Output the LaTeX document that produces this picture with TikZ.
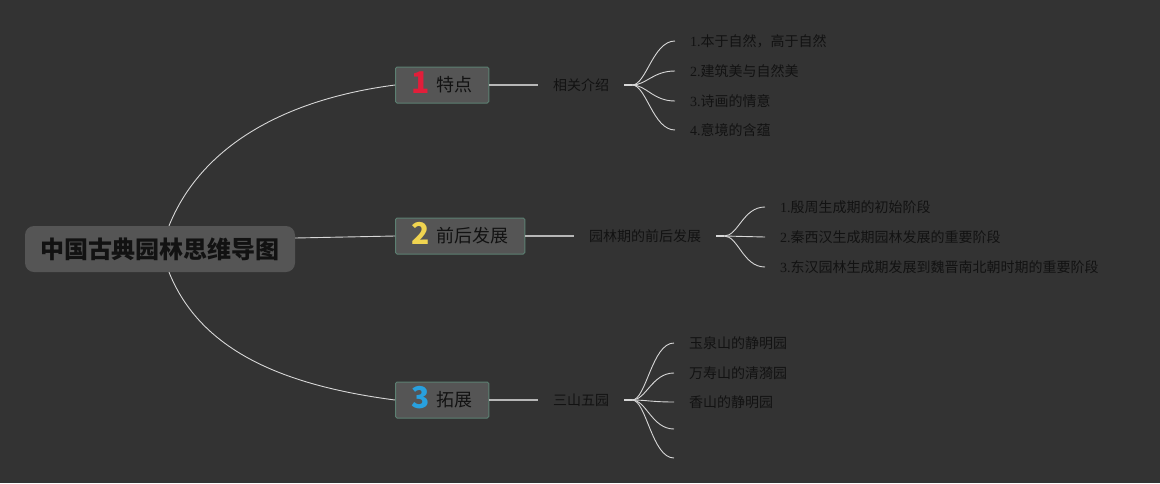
\documentclass[tikz,border=0pt]{standalone}
\usepackage{fontspec}
\setmainfont{Noto Sans CJK SC}
\newfontfamily\serifdigit{Liberation Serif}
\usepackage{tikz}
\definecolor{bgc}{RGB}{51,51,51}
\definecolor{boxc}{RGB}{85,85,85}
\definecolor{edgec}{RGB}{92,128,114}
\definecolor{linec}{RGB}{215,215,215}
\definecolor{ink}{RGB}{18,18,18}
\definecolor{numred}{RGB}{226,30,58}
\definecolor{numyellow}{RGB}{240,212,80}
\definecolor{numblue}{RGB}{40,160,222}
\newcommand{\NUM}[2]{\raisebox{-2.5pt}{\smash{\textcolor{#1}{\fontsize{30}{30}\selectfont\bfseries #2}}}\hspace{7pt}}
\newcommand{\IDX}[1]{{\serifdigit #1.}}

\begin{document}
\begin{tikzpicture}[x=1pt,y=-1pt,
  root/.style={fill=boxc,rounded corners=9pt,minimum width=270pt,minimum height=46pt,
    text=ink,font=\fontsize{24}{24}\selectfont\bfseries},
  topic/.style={draw=edgec,line width=1pt,fill=boxc,rounded corners=1.5pt,anchor=west,
    minimum height=36pt,inner xsep=16pt,inner ysep=0pt,text=ink,font=\fontsize{18}{18}\selectfont},
  sub/.style={inner xsep=15pt,text=ink,font=\fontsize{14}{14}\selectfont},
  leaf/.style={anchor=west,inner xsep=15pt,text=ink,font=\fontsize{14}{14}\selectfont},
  trunk/.style={draw=linec,line width=0.9pt},
  twig/.style={draw=linec!85!black,line width=1.3pt},
  stub/.style={draw=linec,line width=2.5pt}]

  \fill[bgc] (0,0) rectangle (1160,483);

  % root
  \node[root] (root) at (160,249) {中国古典园林思维导图};

  % topics
  \node[topic] (t1) at (395,85) {\NUM{numred}{1}特点};
  \node[topic] (t2) at (395,236) {\NUM{numyellow}{2}前后发展};
  \node[topic] (t3) at (395,400) {\NUM{numblue}{3}拓展};

  \draw[trunk] ([xshift=9pt]root.north) .. controls +(31,-77) and +(-115,15) .. (t1.west); % root->1
  \draw[trunk] ([yshift=11pt]root.east) -- (t2.west); % root->2
  \draw[trunk] ([xshift=9pt]root.south) .. controls +(31,77) and +(-115,-15) .. (t3.west); % root->3

  % subtopics
  \node[sub] (s1) at (581,85) {相关介绍};
  \node[sub] (s2) at (645,236) {园林期的前后发展};
  \node[sub] (s3) at (581,400) {三山五园};

  \draw[twig] (t1.east) -- (s1.west);
  \draw[twig] (t2.east) -- (s2.west);
  \draw[twig] (t3.east) -- (s3.west);

  \coordinate (j1) at ([xshift=8pt]s1.east);
  \coordinate (j2) at ([xshift=8pt]s2.east);
  \coordinate (j3) at ([xshift=8pt]s3.east);
  \draw[stub] (s1.east) -- (j1);
  \draw[stub] (s2.east) -- (j2);
  \draw[stub] (s3.east) -- (j3);

  % leaves of 1
  \node[leaf] (a1) at (675,41) {\IDX{1}本于自然，高于自然};
  \node[leaf] (a2) at (675,71) {\IDX{2}建筑美与自然美};
  \node[leaf] (a3) at (675,101) {\IDX{3}诗画的情意};
  \node[leaf] (a4) at (675,130) {\IDX{4}意境的含蕴};
  \draw[trunk] (j1) .. controls +(14,0) and +(-22,0) .. (a1.west);
  \draw[trunk] (j1) .. controls +(14,0) and +(-22,0) .. (a2.west);
  \draw[trunk] (j1) .. controls +(14,0) and +(-22,0) .. (a3.west);
  \draw[trunk] (j1) .. controls +(14,0) and +(-22,0) .. (a4.west);

  % leaves of 2
  \node[leaf] (b1) at (765,207) {\IDX{1}殷周生成期的初始阶段};
  \node[leaf] (b2) at (765,237) {\IDX{2}秦西汉生成期园林发展的重要阶段};
  \node[leaf] (b3) at (765,267) {\IDX{3}东汉园林生成期发展到魏晋南北朝时期的重要阶段};
  \draw[trunk] (j2) .. controls +(14,0) and +(-22,0) .. (b1.west);
  \draw[trunk] (j2) -- (b2.west);
  \draw[trunk] (j2) .. controls +(14,0) and +(-22,0) .. (b3.west);

  % leaves of 3
  \node[leaf] (c1) at (674,343) {玉泉山的静明园};
  \node[leaf] (c2) at (674,373) {万寿山的清漪园};
  \node[leaf] (c3) at (674,402) {香山的静明园};
  \coordinate (c4) at (674,429);
  \coordinate (c5) at (674,458);
  \draw[trunk] (j3) .. controls +(14,0) and +(-22,0) .. (c1.west);
  \draw[trunk] (j3) .. controls +(14,0) and +(-22,0) .. (c2.west);
  \draw[trunk] (j3) .. controls +(14,0) and +(-22,0) .. (c3.west);
  \draw[trunk] (j3) .. controls +(14,0) and +(-22,0) .. (c4);
  \draw[trunk] (j3) .. controls +(14,0) and +(-22,0) .. (c5);

\end{tikzpicture}
\end{document}
